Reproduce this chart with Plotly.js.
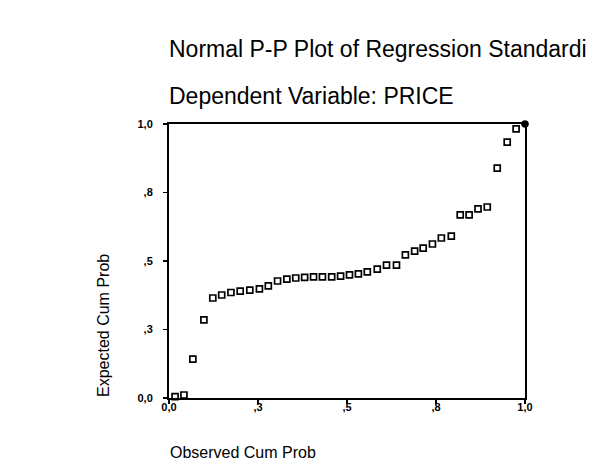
<!DOCTYPE html>
<html>
<head>
<meta charset="utf-8">
<script src="https://cdn.plot.ly/plotly-3.0.1.min.js"></script>
<style>
  html, body { margin: 0; padding: 0; background: #ffffff; }
  #chart { width: 598px; height: 465px; }
</style>
</head>
<body>
<div id="chart"></div>
<script>
// ---- data ----
const titleLine1 = "Normal P-P Plot of Regression Standardi";
const titleLine2 = "Dependent Variable: PRICE";
const xAxisTitle = "Observed Cum Prob";
const yAxisTitle = "Expected Cum Prob";

const observedCumProb = [0.017, 0.042, 0.067, 0.098, 0.123, 0.148, 0.174, 0.200, 0.227, 0.254,
  0.279, 0.305, 0.331, 0.356, 0.381, 0.406, 0.431, 0.457, 0.482, 0.507,
  0.532, 0.557, 0.585, 0.611, 0.639, 0.664, 0.690, 0.714, 0.740, 0.765,
  0.793, 0.818, 0.843, 0.868, 0.894, 0.922, 0.950, 0.975, 1.000];
const expectedCumProb = [0.005, 0.011, 0.142, 0.285, 0.365, 0.376, 0.385, 0.390, 0.394, 0.398,
  0.409, 0.427, 0.434, 0.438, 0.440, 0.442, 0.442, 0.442, 0.445, 0.449,
  0.453, 0.460, 0.470, 0.485, 0.485, 0.522, 0.536, 0.547, 0.562, 0.584,
  0.591, 0.668, 0.668, 0.690, 0.697, 0.839, 0.934, 0.982, 1.000];

const tickValues = [0, 0.25, 0.5, 0.75, 1];
const tickLabels = ["0,0", ",3", ",5", ",8", "1,0"];

// ---- chart ----
const W = 598, H = 465;
const FONT = "Liberation Sans, Arial, sans-serif";

const symbols = observedCumProb.map((x, i) =>
  (x >= 1 && expectedCumProb[i] >= 1) ? "circle" : "square-open");

const trace = {
  type: "scatter",
  mode: "markers",
  x: observedCumProb,
  y: expectedCumProb,
  cliponaxis: false,
  marker: {
    symbol: symbols,
    size: 6,
    color: "#000000",
    line: { color: "#000000", width: 1.7 }
  },
  hoverinfo: "x+y"
};

const axisCommon = {
  range: [0, 1],
  tickmode: "array",
  tickvals: tickValues,
  ticktext: tickLabels,
  ticks: "outside",
  ticklen: 4,
  tickwidth: 1.5,
  tickcolor: "#000",
  showline: true,
  linecolor: "#000",
  linewidth: 2,
  mirror: true,
  showgrid: false,
  zeroline: false,
  tickfont: { family: FONT, size: 11, color: "#000", weight: "bold" },
  fixedrange: true
};

const layout = {
  width: W,
  height: H,
  margin: { l: 169, r: 73, t: 124, b: 67 },
  paper_bgcolor: "#ffffff",
  plot_bgcolor: "#ffffff",
  showlegend: false,
  xaxis: Object.assign({}, axisCommon, { ticklabelstandoff: -6 }),
  yaxis: Object.assign({}, axisCommon, { ticklabelstandoff: 8 }),
  annotations: [
    { text: titleLine1, xref: "paper", yref: "paper", x: (167 - 169) / 356, y: 1 + (124 - 49) / 274,
      xanchor: "left", yanchor: "middle", showarrow: false,
      font: { family: FONT, size: 23, color: "#000" } },
    { text: titleLine2, xref: "paper", yref: "paper", x: (167 - 169) / 356, y: 1 + (124 - 96) / 274,
      xanchor: "left", yanchor: "middle", showarrow: false,
      font: { family: FONT, size: 23, color: "#000" } },
    { text: xAxisTitle, xref: "paper", yref: "paper", x: (168 - 169) / 356, y: -(452 - 398) / 274,
      xanchor: "left", yanchor: "middle", showarrow: false,
      font: { family: FONT, size: 16, color: "#000" } },
    { text: yAxisTitle, xref: "paper", yref: "paper", x: -(169 - 103) / 356, y: (398 - 326) / 274,
      xanchor: "center", yanchor: "middle", textangle: -90, showarrow: false,
      font: { family: FONT, size: 16, color: "#000" } }
  ]
};

Plotly.newPlot("chart", [trace], layout, { displayModeBar: false, staticPlot: true });
</script>
</body>
</html>
